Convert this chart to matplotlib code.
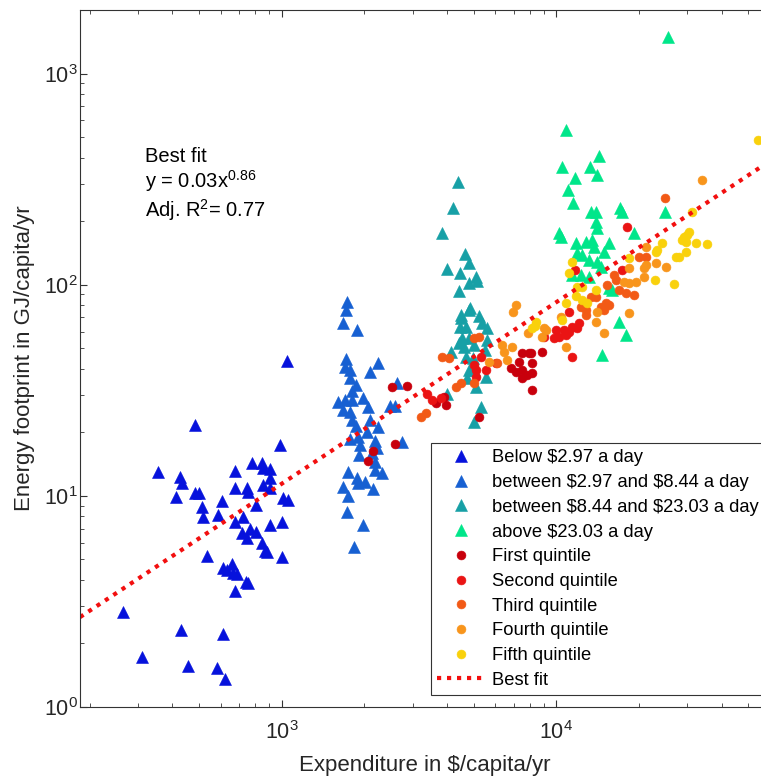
import matplotlib
matplotlib.use('Agg')
import matplotlib.pyplot as plt
import numpy as np

plt.rcParams['font.family'] = ['Liberation Sans', 'DejaVu Sans']
plt.rcParams['mathtext.fontset'] = 'custom'
plt.rcParams['mathtext.rm'] = 'Liberation Sans'
plt.rcParams['mathtext.it'] = 'Liberation Sans:italic'
plt.rcParams['mathtext.bf'] = 'Liberation Sans:bold'

# ---- data ($/capita/yr, GJ/capita/yr) ----
# countries by daily expenditure
x_below = [483, 354, 426, 433, 412, 483, 499, 512, 516, 534, 585, 605, 675, 675, 675,
           746, 752, 721, 778, 846, 853, 904, 904, 853, 904, 983, 1008, 1051, 804, 716,
           746, 765, 804, 846, 867, 882, 904, 1000, 1000, 610, 631, 658, 664, 686, 740,
           752, 675, 264, 429, 610, 310, 455, 580, 621, 1043]
y_below = [21.7, 13.0, 12.3, 11.5, 9.89, 10.3, 10.3, 8.87, 7.95, 5.20, 8.13, 9.47, 13.1, 10.9, 7.53,
           10.9, 10.45, 7.95, 14.3, 14.3, 13.6, 13.4, 12.2, 11.3, 10.9, 17.4, 9.78, 9.57, 9.06, 6.68,
           6.33, 6.98, 6.76, 5.99, 5.49, 5.43, 7.29, 7.53, 5.14, 4.56, 4.46, 4.77, 4.32, 4.28, 3.92,
           3.87, 3.55, 2.82, 2.32, 2.22, 1.73, 1.57, 1.53, 1.36, 43.5]

x_low = [1723, 1709, 1667, 1874, 1709, 2234, 1695, 1767, 2089, 1767, 1858, 1811, 2641, 1598, 1695,
         1797, 1970, 2054, 1667, 1767, 2470, 2576, 1797, 1858, 2089, 2234, 2037, 1890, 1767, 2179,
         1921, 2216, 2754, 1905, 2125, 2179, 2179, 2310, 1738, 1874, 1890, 2004, 1667, 2143, 1738,
         1723, 1970, 1827]
y_low = [82.8, 75.9, 65.9, 61.0, 44.5, 42.6, 40.8, 39.5, 38.6, 36.2, 33.5, 31.4, 34.3, 27.8, 28.5,
         28.5, 29.1, 26.4, 25.5, 25.0, 26.7, 26.7, 22.9, 21.4, 22.9, 21.2, 20.1, 19.0, 18.6, 18.2,
         17.4, 16.9, 18.0, 15.6, 16.0, 14.5, 13.3, 12.8, 13.0, 12.2, 11.5, 11.6, 11.0, 10.8, 10.0,
         8.40, 7.29, 5.74]

x_mid = [4402, 4222, 3850, 4668, 4827, 4015, 4477, 5118, 5162, 4827, 4440, 4868, 4514, 4827, 5248,
         5382, 5610, 4477, 4707, 5610, 4552, 4827, 5033, 4440, 4629, 4150, 5518, 4707, 4990, 4827,
         5033, 5565, 4747, 5118, 4015, 5337, 5033, 4514]
y_mid = [306, 231, 176, 140, 127, 119, 114, 109, 104, 102, 93.4, 77.6, 71.9, 75.9, 71.1,
         65.9, 62.5, 63.1, 63.1, 54.7, 55.9, 55.9, 51.8, 53.0, 50.7, 48.0, 49.1, 45.5, 45.0, 39.5,
         39.5, 36.6, 36.2, 32.8, 30.4, 26.4, 22.4, 69.6]

x_high = [25544, 10873, 10515, 14333, 13293, 14093, 11722, 11055, 11530, 13406, 13980, 17087, 17378,
          24912, 13980, 14093, 10254, 10427, 19211, 11820, 12853, 13520, 13748, 15586, 14946, 11920,
          12433, 13183, 14093, 14575, 11434, 12328, 13183, 15586, 15983, 16943, 17970, 14700]
y_high = [1486, 540, 361, 406, 361, 331, 320, 281, 244, 221, 221, 231, 221,
          221, 198, 185, 176, 168, 176, 157, 159, 163, 151, 157, 143, 141,
          138, 131, 128, 121, 111, 111, 109, 96.5, 94.4, 66.6, 57.8, 46.5]

# quintiles
x_q1 = [2512, 2872, 2576, 2143, 2054, 3661, 3914, 3981, 5248, 6861, 7336, 7522, 7979, 8180, 7153,
        7522, 7845, 8180, 7522, 8180, 8896, 8110]
y_q1 = [32.8, 33.2, 17.6, 16.3, 14.6, 27.5, 29.4, 27.0, 23.7, 40.3, 43.1, 47.5, 47.5, 42.6, 38.6,
        39.5, 37.4, 38.2, 36.2, 31.7, 48.0, 47.5]

x_q2 = [3396, 3540, 3818, 5033, 5118, 5118, 5337, 5565, 6049, 9045, 9833, 10000, 10254, 10693, 10873,
        11150, 11434, 11920, 12125, 11434, 11722, 17378, 18120, 11150]
y_q2 = [30.4, 28.5, 29.1, 41.7, 39.5, 36.6, 45.5, 39.5, 42.6, 56.6, 55.9, 61.0, 56.6, 61.0, 57.8,
        59.7, 63.1, 62.5, 65.9, 45.5, 117, 117, 187.5, 74.3]

x_q3 = [3230, 3367, 3850, 4083, 4325, 4514, 5033, 5248, 5033, 6100, 13406, 13980, 15200, 15586, 14575,
        14946, 12328, 12853, 12853, 16250, 16530, 15330, 16943, 17970, 19211, 21250, 20040, 24912]
y_q3 = [23.7, 24.7, 45.5, 45.0, 32.8, 34.3, 55.9, 56.6, 34.3, 42.6, 87.5, 87.5, 81.9, 80.2, 78.4,
        75.9, 78.4, 75.9, 71.9, 111, 105, 99.7, 94.4, 91.5, 89.5, 135, 135, 257]

x_q4 = [5705, 6363, 6471, 6635, 6918, 6976, 7153, 7907, 9197, 9045, 8896, 10427, 10873, 13980, 14946,
        14093, 18430, 18430, 17670, 18430, 19540, 20890, 21250, 20890, 23100, 25120, 21250, 33960]
y_q4 = [43.1, 51.8, 48.0, 44.0, 50.7, 74.3, 80.2, 59.1, 61.0, 62.5, 56.6, 70.3, 50.7, 66.6, 59.1,
        74.3, 73.4, 120, 103, 102, 103, 109, 124, 120, 127, 121, 151, 313]

x_q5 = [8180, 8453, 8385, 10515, 10873, 11150, 11434, 11820, 12433, 11920, 12433, 12966, 13980, 18430,
        22910, 26860, 24290, 23300, 23100, 27320, 28010, 29700, 29210, 29950, 30450, 28710, 29700,
        32280, 35400, 31220, 54270]
y_q5 = [62.5, 66.6, 63.8, 68.1, 81.9, 114, 128, 88.4, 84.6, 97.5, 97.5, 81.9, 94.4, 134,
        105, 100.7, 157, 146, 143, 135, 135, 143, 168, 172, 178, 163, 159,
        157, 156, 221, 484]

fit_a = 0.03
fit_b = 0.86
fit_r2 = 0.77

triangle_groups = [
    (r'Below \$2.97 a day', x_below, y_below, '#0612dc'),
    (r'between \$2.97 and \$8.44 a day', x_low, y_low, '#1760d2'),
    (r'between \$8.44 and \$23.03 a day', x_mid, y_mid, '#17a0a6'),
    (r'above \$23.03 a day', x_high, y_high, '#00e68a'),
]
circle_groups = [
    ('First quintile', x_q1, y_q1, '#c8000c'),
    ('Second quintile', x_q2, y_q2, '#ea1414'),
    ('Third quintile', x_q3, y_q3, '#f25a16'),
    ('Fourth quintile', x_q4, y_q4, '#f8951c'),
    ('Fifth quintile', x_q5, y_q5, '#f9d10c'),
]

W, H = 761, 776
fig = plt.figure(figsize=(W / 100, H / 100), dpi=100)
ax = fig.add_axes([80 / W, 1 - 707 / H, 690 / W, 697 / H])
ax.set_xscale('log')
ax.set_yscale('log')
xmin, xmax = 184.4, 60000
ax.set_xlim(xmin, xmax)
ax.set_ylim(1, 2000)

for label, xs, ys, c in triangle_groups:
    ax.plot(xs, ys, linestyle='none', marker='^', ms=8.6, color=c, mec=c, mew=0.4, label=label)
for label, xs, ys, c in circle_groups:
    ax.plot(xs, ys, linestyle='none', marker='o', ms=6.4, color=c, mec=c, mew=0.4, label=label)

# best fit line y = a x^b
fit_x = np.array([xmin, xmax])
ax.plot(fit_x, fit_a * fit_x ** fit_b, color='#f20f0f', lw=3, dashes=(1, 1.4), label='Best fit')

ax.text(0.094, 0.782, 'Best fit', transform=ax.transAxes, fontsize=14.5, va='baseline')
ax.text(0.094, 0.745, r'y = %.2fx$^{%.2f}$' % (fit_a, fit_b), transform=ax.transAxes,
        fontsize=14.5, va='baseline')
ax.text(0.094, 0.704, r'Adj. R$^{2}$= %.2f' % fit_r2, transform=ax.transAxes,
        fontsize=14.5, va='baseline')

ax.set_xlabel(r'Expenditure in \$/capita/yr', fontsize=16, color='#262626')
ax.set_ylabel('Energy footprint in GJ/capita/yr', fontsize=16, color='#262626')
ax.xaxis.set_label_coords(0.5, -0.069)
ax.yaxis.set_label_coords(-0.0652, 0.5)

for sp in ax.spines.values():
    sp.set_color('#333333')
    sp.set_linewidth(0.8)
ax.tick_params(which='both', direction='in', top=True, right=True, colors='#333333',
               labelcolor='#262626', labelsize=15.5)
ax.tick_params(which='major', length=5, width=0.8)
ax.tick_params(which='minor', length=3, width=0.6)
ax.tick_params(axis='x', which='both', pad=10)
ax.tick_params(axis='y', which='both', pad=1.5)

leg = ax.legend(loc='upper left', bbox_to_anchor=(431 / W, 1 - 443 / H),
                bbox_transform=fig.transFigure, borderaxespad=0, fontsize=13.2,
                labelspacing=0.42, handlelength=2.6, handletextpad=0.4, borderpad=0.35,
                fancybox=False, framealpha=1, edgecolor='#333333', numpoints=1)
leg.get_frame().set_linewidth(0.8)

fig.savefig('out.png', dpi=100)
